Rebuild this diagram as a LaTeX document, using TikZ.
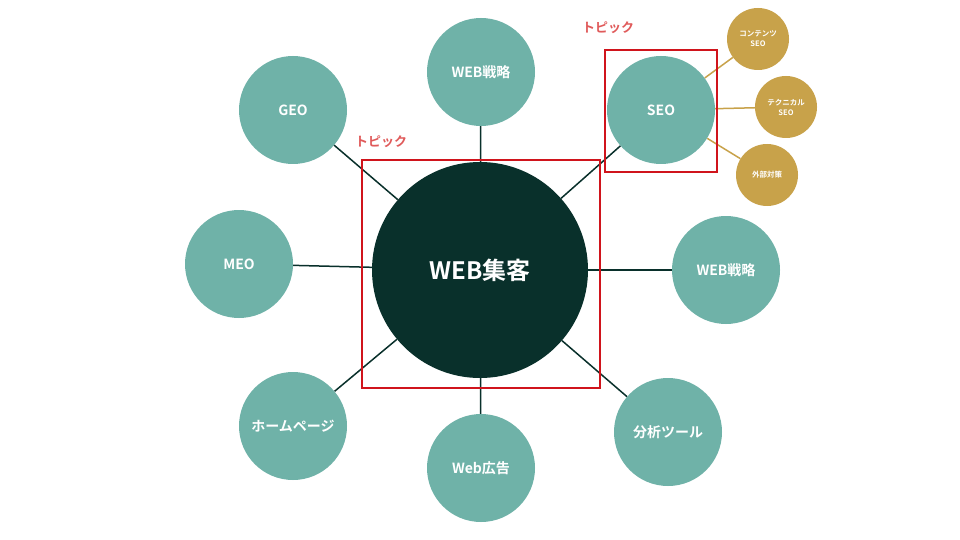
\documentclass[tikz,border=0pt]{standalone}
\usepackage{fontspec}
\newfontfamily\jp{Noto Sans CJK JP}[BoldFont={* Bold}]
\definecolor{teal}{HTML}{6FB2A8}
\definecolor{dark}{HTML}{09302B}
\definecolor{gold}{HTML}{C8A24A}
\definecolor{rb}{HTML}{D0141C}
\definecolor{rt}{HTML}{E05A5A}
\begin{document}
\begin{tikzpicture}[x=1pt,y=-1pt,
 sat/.style={circle,fill=teal,minimum size=108pt,inner sep=0pt,text=white,font=\jp\bfseries\fontsize{14}{16}\selectfont},
 sm/.style={circle,fill=gold,minimum size=62pt,inner sep=0pt,text=white,align=center,font=\jp\bfseries\fontsize{7.5}{10}\selectfont},
 ln/.style={draw=dark,line width=1.5pt},
 gl/.style={draw=gold,line width=1.5pt},
 box/.style={draw=rb,line width=1.3pt},
 tp/.style={text=rt,font=\jp\bfseries\fontsize{13}{15}\selectfont}]
\useasboundingbox (0,0) rectangle (960,540);
\fill[white] (0,0) rectangle (960,540);
\node[circle,fill=dark,minimum size=216pt,inner sep=0pt,text=white,font=\jp\bfseries\fontsize{24}{28}\selectfont] (c) at (480,270) {WEB集客};
\node[sat] (s1) at (481,72) {WEB戦略};
\node[sat] (s2) at (293,110) {GEO};
\node[sat] (s3) at (661,110) {SEO};
\node[sat] (s4) at (239,264) {MEO};
\node[sat] (s5) at (726,270) {WEB戦略};
\node[sat] (s6) at (293,426) {ホームページ};
\node[sat] (s7) at (481,468) {Web広告};
\node[sat] (s8) at (668,432) {分析ツール};
\foreach \s in {s1,s2,s3,s4,s5,s6,s7,s8} \draw[ln] (\s) -- (c);
\node[sm] (g1) at (758,39) {コンテンツ\\SEO};
\node[sm] (g2) at (786,107) {テクニカル\\SEO};
\node[sm] (g3) at (767,175) {外部対策};
\foreach \g in {g1,g2,g3} \draw[gl] (s3) -- (\g);
\draw[box] (362,160) rectangle (600,388);
\draw[box] (605,50) rectangle (717,172);
\node[tp] (t1) at (381,142) {トピック};
\node[tp] (t2) at (608,28) {トピック};
\end{tikzpicture}
\end{document}
